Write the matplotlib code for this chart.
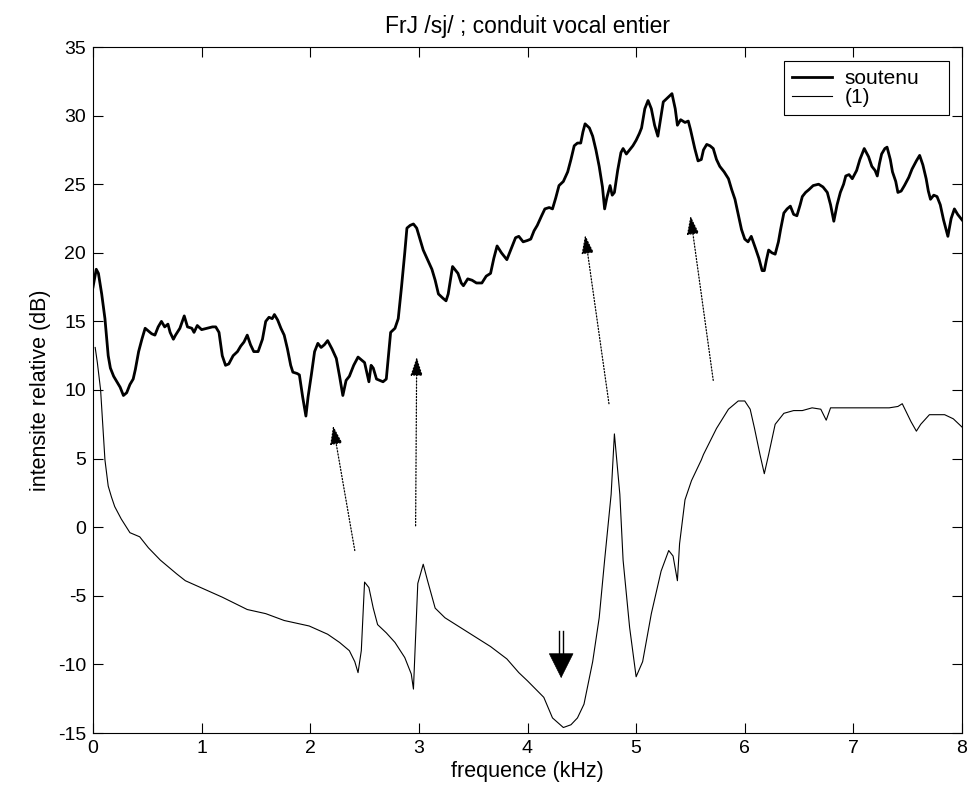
import matplotlib.pyplot as plt

# spectre soutenu (trait epais)
freq_soutenu = [0.00, 0.03, 0.05, 0.08, 0.11, 0.14, 0.16, 0.19, 0.22, 0.25, 0.28, 0.31, 0.34, 0.37, 0.39,
                0.42, 0.45, 0.48, 0.51, 0.54, 0.57, 0.60, 0.63, 0.66, 0.69, 0.71, 0.74, 0.76, 0.80, 0.84,
                0.87, 0.91, 0.93, 0.96, 1.00, 1.05, 1.10, 1.13, 1.16, 1.19, 1.22, 1.25, 1.29, 1.33, 1.36,
                1.39, 1.42, 1.45, 1.48, 1.52, 1.56, 1.59, 1.62, 1.65, 1.67, 1.70, 1.73, 1.76, 1.79, 1.82,
                1.84, 1.88, 1.90, 1.93, 1.96, 1.98, 2.01, 2.04, 2.07, 2.10, 2.13, 2.16, 2.20, 2.24, 2.27,
                2.30, 2.33, 2.36, 2.40, 2.44, 2.47, 2.50, 2.54, 2.56, 2.58, 2.61, 2.64, 2.67, 2.70, 2.72,
                2.74, 2.78, 2.81, 2.84, 2.87, 2.89, 2.92, 2.95, 2.98, 3.01, 3.04, 3.08, 3.12, 3.15, 3.18,
                3.22, 3.25, 3.27, 3.29, 3.31, 3.33, 3.36, 3.39, 3.41, 3.45, 3.49, 3.53, 3.58, 3.62, 3.66,
                3.69, 3.72, 3.76, 3.81, 3.85, 3.89, 3.92, 3.96, 4.00, 4.03, 4.06, 4.09, 4.13, 4.16, 4.20,
                4.23, 4.26, 4.29, 4.33, 4.37, 4.40, 4.43, 4.46, 4.49, 4.51, 4.53, 4.57, 4.60, 4.63, 4.66,
                4.69, 4.71, 4.73, 4.76, 4.78, 4.80, 4.83, 4.86, 4.88, 4.91, 4.94, 4.97, 5.00, 5.03, 5.05,
                5.08, 5.11, 5.14, 5.17, 5.20, 5.22, 5.25, 5.29, 5.33, 5.36, 5.38, 5.41, 5.45, 5.48, 5.50,
                5.52, 5.54, 5.57, 5.60, 5.62, 5.65, 5.68, 5.71, 5.74, 5.77, 5.81, 5.85, 5.88, 5.91, 5.94,
                5.97, 6.00, 6.03, 6.06, 6.10, 6.13, 6.16, 6.18, 6.20, 6.22, 6.25, 6.28, 6.31, 6.33, 6.36,
                6.39, 6.42, 6.45, 6.48, 6.51, 6.53, 6.56, 6.59, 6.63, 6.68, 6.72, 6.76, 6.79, 6.82, 6.85,
                6.88, 6.91, 6.93, 6.96, 6.99, 7.03, 7.06, 7.10, 7.14, 7.17, 7.20, 7.22, 7.24, 7.26, 7.29,
                7.31, 7.34, 7.36, 7.39, 7.41, 7.44, 7.47, 7.51, 7.54, 7.58, 7.61, 7.64, 7.67, 7.69, 7.71,
                7.74, 7.77, 7.80, 7.83, 7.85, 7.87, 7.90, 7.93, 7.96, 8.00]
db_soutenu = [17.5, 18.8, 18.5, 17.0, 15.2, 12.5, 11.6, 11.0, 10.6, 10.2, 9.6, 9.8, 10.4, 10.8, 11.5,
              12.8, 13.7, 14.5, 14.3, 14.1, 14.0, 14.6, 15.0, 14.6, 14.8, 14.2, 13.7, 14.0, 14.5, 15.4,
              14.6, 14.5, 14.2, 14.7, 14.4, 14.5, 14.6, 14.6, 14.2, 12.5, 11.8, 11.9, 12.5, 12.8, 13.2,
              13.5, 14.0, 13.3, 12.8, 12.8, 13.7, 15.0, 15.3, 15.2, 15.5, 15.1, 14.5, 14.0, 13.0, 11.8,
              11.3, 11.2, 11.1, 9.5, 8.1, 9.5, 11.1, 12.8, 13.4, 13.1, 13.3, 13.6, 13.0, 12.3, 11.0,
              9.6, 10.7, 11.0, 11.8, 12.4, 12.2, 12.0, 10.6, 11.8, 11.6, 10.8, 10.7, 10.6, 10.8, 12.5,
              14.2, 14.5, 15.2, 17.5, 20.0, 21.8, 22.0, 22.1, 21.8, 21.0, 20.2, 19.5, 18.8, 18.0, 17.0,
              16.7, 16.5, 17.0, 18.0, 19.0, 18.8, 18.5, 17.8, 17.6, 18.1, 18.0, 17.8, 17.8, 18.3, 18.5,
              19.6, 20.5, 20.0, 19.5, 20.3, 21.1, 21.2, 20.8, 20.9, 21.0, 21.6, 22.0, 22.7, 23.2, 23.3,
              23.2, 24.0, 24.9, 25.2, 25.9, 26.8, 27.8, 28.0, 28.0, 28.8, 29.4, 29.1, 28.5, 27.5, 26.3,
              24.8, 23.2, 24.0, 24.9, 24.2, 24.4, 26.0, 27.3, 27.6, 27.2, 27.5, 27.8, 28.2, 28.7, 29.1,
              30.5, 31.1, 30.5, 29.3, 28.5, 29.5, 31.0, 31.3, 31.6, 30.5, 29.3, 29.7, 29.5, 29.6, 29.0,
              28.3, 27.6, 26.7, 26.8, 27.5, 27.9, 27.8, 27.6, 26.8, 26.3, 25.9, 25.4, 24.6, 23.9, 22.8,
              21.7, 21.0, 20.8, 21.2, 20.3, 19.6, 18.7, 18.7, 19.5, 20.2, 20.0, 19.9, 20.8, 21.7, 22.9,
              23.2, 23.4, 22.8, 22.7, 23.5, 24.1, 24.4, 24.6, 24.9, 25.0, 24.8, 24.4, 23.5, 22.3, 23.5,
              24.4, 25.0, 25.6, 25.7, 25.4, 26.0, 26.8, 27.6, 27.0, 26.3, 26.0, 25.6, 26.5, 27.2, 27.6,
              27.7, 26.8, 25.9, 25.2, 24.4, 24.5, 24.9, 25.5, 26.1, 26.7, 27.1, 26.4, 25.4, 24.5, 23.9,
              24.2, 24.1, 23.5, 22.4, 21.8, 21.2, 22.5, 23.2, 22.8, 22.4]

# modele (1) (trait fin)
freq_1 = [0.02, 0.04, 0.07, 0.11, 0.14, 0.17, 0.20, 0.26, 0.34, 0.43, 0.51, 0.62, 0.77, 0.85, 1.02,
          1.19, 1.42, 1.59, 1.76, 1.99, 2.16, 2.27, 2.36, 2.41, 2.44, 2.47, 2.50, 2.54, 2.58, 2.62,
          2.70, 2.78, 2.87, 2.93, 2.95, 2.99, 3.04, 3.08, 3.15, 3.24, 3.38, 3.52, 3.66, 3.81, 3.92,
          4.00, 4.15, 4.23, 4.33, 4.40, 4.46, 4.52, 4.60, 4.66, 4.71, 4.77, 4.80, 4.85, 4.88, 4.94,
          5.00, 5.06, 5.14, 5.23, 5.30, 5.34, 5.38, 5.40, 5.45, 5.51, 5.60, 5.62, 5.74, 5.85, 5.94,
          6.00, 6.05, 6.09, 6.14, 6.18, 6.22, 6.28, 6.36, 6.45, 6.53, 6.62, 6.70, 6.75, 6.79, 6.90,
          7.10, 7.33, 7.41, 7.45, 7.53, 7.58, 7.62, 7.70, 7.84, 7.92, 8.00]
db_1 = [13.1, 12.0, 10.0, 4.9, 3.0, 2.2, 1.5, 0.6, -0.4, -0.7, -1.5, -2.4, -3.4, -3.9, -4.5,
        -5.1, -6.0, -6.3, -6.8, -7.2, -7.8, -8.4, -9.0, -9.8, -10.6, -9.0, -4.0, -4.4, -5.9, -7.1,
        -7.7, -8.4, -9.5, -10.7, -11.8, -4.1, -2.7, -3.9, -5.9, -6.6, -7.3, -8.0, -8.7, -9.6, -10.6,
        -11.2, -12.4, -13.9, -14.6, -14.4, -13.9, -12.9, -9.8, -6.6, -2.4, 2.4, 6.8, 2.4, -2.4, -7.3,
        -10.9, -9.8, -6.3, -3.2, -1.7, -2.1, -3.9, -1.2, 2.0, 3.4, 4.9, 5.3, 7.2, 8.6, 9.2,
        9.2, 8.6, 7.2, 5.3, 3.9, 5.3, 7.5, 8.3, 8.5, 8.5, 8.7, 8.6, 7.8, 8.7, 8.7,
        8.7, 8.7, 8.8, 9.0, 7.7, 7.0, 7.5, 8.2, 8.2, 7.9, 7.3]

# fleches pointillees : (queue) -> (pointe)
arrow_tails = [(2.41, -1.7), (2.97, 0.1), (4.75, 9.0), (5.71, 10.7)]
arrow_heads = [(2.21, 7.4), (2.98, 12.4), (4.53, 21.3), (5.50, 22.7)]

# double fleche vers le bas
dbl_x = 4.31
dbl_top, dbl_mid, dbl_tip = -7.6, -9.3, -11.0

plt.rcParams['font.family'] = ['Liberation Sans', 'DejaVu Sans']
plt.rcParams['axes.unicode_minus'] = False

fig = plt.figure(figsize=(9.68, 7.95), dpi=100)
ax = fig.add_axes([93 / 968, 62 / 795, 869 / 968, 686 / 795])

ax.plot(freq_soutenu, db_soutenu, color='black', linewidth=2.0, label='soutenu')
ax.plot(freq_1, db_1, color='black', linewidth=0.8, label='(1)')

for (xt, yt), (xh, yh) in zip(arrow_tails, arrow_heads):
    ax.annotate('', xy=(xh, yh), xytext=(xt, yt),
                arrowprops=dict(arrowstyle='-|>,head_length=1.15,head_width=0.38',
                                linestyle=(0, (1, 1.5)), linewidth=0.9, color='black',
                                shrinkA=0, shrinkB=0, mutation_scale=10))

ax.plot([dbl_x - 0.018, dbl_x - 0.018], [dbl_top, dbl_mid], color='black', linewidth=1.0)
ax.plot([dbl_x + 0.018, dbl_x + 0.018], [dbl_top, dbl_mid], color='black', linewidth=1.0)
ax.annotate('', xy=(dbl_x, dbl_tip), xytext=(dbl_x, dbl_mid),
            arrowprops=dict(arrowstyle='-|>,head_length=1.7,head_width=0.85',
                            linewidth=0.5, color='black', shrinkA=0, shrinkB=0,
                            mutation_scale=10))

ax.set_xlim(0, 8)
ax.set_ylim(-15, 35)
ax.set_xticks(range(0, 9))
ax.set_yticks(range(-15, 36, 5))
ax.tick_params(direction='in', length=7, width=0.8, top=True, right=True, labelsize=14, pad=5)
for s in ax.spines.values():
    s.set_linewidth(0.8)

ax.set_title('FrJ /sj/ ; conduit vocal entier', fontsize=16.5, pad=10)
ax.set_xlabel('frequence (kHz)', fontsize=15.5, labelpad=3)
ax.set_ylabel('intensite relative (dB)', fontsize=15.5, labelpad=5)

leg = ax.legend(loc='upper left', bbox_to_anchor=(0.795, 0.898, 0.19, 0.082), mode='expand',
                borderaxespad=0, fancybox=False, framealpha=1, edgecolor='black', fontsize=15,
                handlelength=1.9, handletextpad=0.6, labelspacing=0.0, borderpad=0.4)
leg.get_frame().set_linewidth(0.8)

fig.savefig('out.png', dpi=100)
